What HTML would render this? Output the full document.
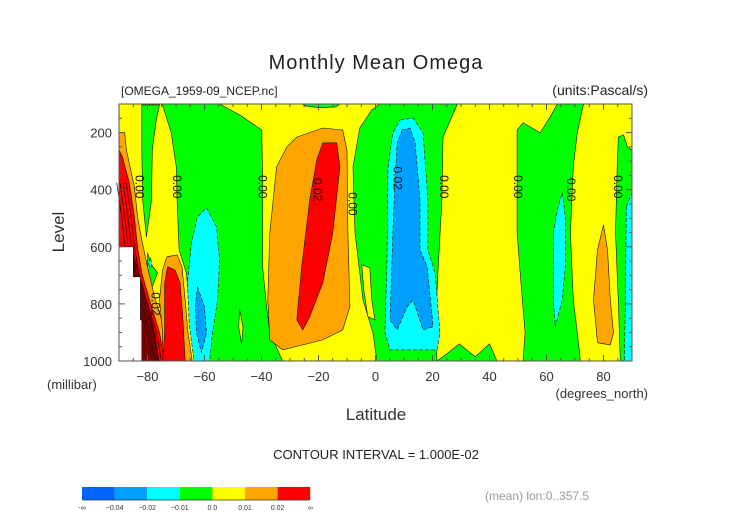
<!DOCTYPE html>
<html><head><meta charset="utf-8"><style>
body{margin:0;background:#fff;}
svg{display:block;font-family:"Liberation Sans",sans-serif;}
</style></head><body>
<svg id="chart" width="752" height="532" viewBox="0 0 752 532" xmlns="http://www.w3.org/2000/svg">
<text x="376" y="69" text-anchor="middle" font-size="20" fill="#222" letter-spacing="1">Monthly Mean Omega</text>
<text x="121" y="95" font-size="12" fill="#222">[OMEGA_1959-09_NCEP.nc]</text>
<text x="648" y="95" text-anchor="end" font-size="14" fill="#222">(units:Pascal/s)</text>
<text transform="translate(64,232) rotate(-90)" text-anchor="middle" font-size="17" fill="#333">Level</text>
<text x="47" y="389" font-size="13" fill="#333">(millibar)</text>
<text x="376" y="420" text-anchor="middle" font-size="17" fill="#333">Latitude</text>
<text x="648" y="398" text-anchor="end" font-size="13" fill="#333">(degrees_north)</text>
<text x="376" y="459" text-anchor="middle" font-size="13" fill="#222">CONTOUR INTERVAL = 1.000E-02</text>
<text x="485" y="500" font-size="12" fill="#999">(mean) lon:0..357.5</text>
<g id="plot"></g>
<g id="axes"></g>
<g id="cbar"></g>
</svg>
<script>
const xTicks=[-80,-60,-40,-20,0,20,40,60,80];
const yTicks=[200,400,600,800,1000];
const cbarColors=["#0064ff","#00a0ff","#00ffff","#00ff00","#ffff00","#ffa500","#ff0000"];
const cbarLabels=["-∞","−0.04","−0.02","−0.01","0.0","0.01","0.02","∞"];
const greenRegions=[
[[-82,103],[-75.8,103],[-76.9,156],[-78.3,261],[-78.6,436],[-80.4,566],[-81.7,436],[-82,261]],
[[-74.8,100],[-54.7,100],[-47.7,138],[-39.9,191],[-39.6,376],[-39.6,670],[-38.2,810],[-37.1,901],[-32.6,1000],[-63.6,1000],[-65.3,810],[-66.4,691],[-68.9,611],[-69.6,436],[-69.9,320],[-71.7,201]],
[[-80,621],[-78.6,663],[-76.5,691],[-78.3,740],[-80,698]],
[[-25.5,100],[-12.5,100],[-14,110],[-20,113],[-25,106]],
[[1.5,100],[-1.3,121],[-5.5,184],[-7.9,320],[-7.2,551],[-4.4,786],[-0.9,901],[0.5,1000],[21.6,1000],[20.9,901],[22,670],[23.3,436],[23.7,216],[28.6,103],[28.6,100]],
[[21.6,1000],[25,975],[29.4,940],[35,985],[40,940],[42.6,1000]],
[[49.7,191],[51.8,166],[57.8,201],[61.3,145],[63.8,100],[73,100],[70.8,201],[69.4,320],[68.4,551],[69.4,786],[70.8,901],[71.9,1000],[51.8,1000],[52.5,901],[51.5,786],[49.7,551]],
[[85.2,216],[87,208],[88.4,250],[90,261],[90,1000],[85.9,1000],[85.2,786],[84.2,551],[84.8,320]]
];
const yellowRegions=[
[[-47.7,820],[-46.5,880],[-47,940],[-48,880]],
[[-4.8,663],[-2,674],[-1.3,786],[-0.2,856],[-2.7,845],[-4.1,751]]
];
const cyanRegions=[
[[-59.3,464],[-55.8,530],[-54.7,646],[-55.4,786],[-57.2,901],[-58.2,1000],[-63.6,1000],[-65.3,880],[-66,726],[-64.6,586],[-62.5,495]],
[[8.6,156],[13.2,149],[16.7,201],[18.4,436],[18.4,611],[20.9,691],[22.6,901],[21.6,961],[5.1,961],[3.3,901],[4,670],[4.4,320],[6.1,201]],
[[65.5,411],[66.6,495],[66.6,670],[65.5,786],[63.1,880],[62.4,786],[62.4,551],[63.8,471]],
[[88,460],[90,411],[90,1000],[87.3,1000],[87.7,786]],
[[-79,640],[-78.4,660],[-79,675],[-79.6,660]]
];
const blueRegions=[
[[-62.5,740],[-60,810],[-59.3,901],[-61.1,971],[-62.8,901],[-63.2,810]],
[[9.3,191],[12.1,184],[13.9,236],[15.6,436],[15.6,611],[18.1,670],[20.2,880],[16.7,891],[13.2,786],[11.1,810],[7.6,891],[5.1,856],[6.1,551],[6.8,376],[7.6,236]]
];
const orangeRegions=[
[[-90,200],[-88,200],[-87.4,261],[-84.6,390],[-83.5,495],[-82,576],[-80,670],[-77.5,775],[-74,891],[-73,1000],[-90,1000]],
[[-73.2,635],[-69.6,628],[-67.9,670],[-66.8,786],[-65.8,901],[-64.3,1000],[-75,1000],[-74.7,901],[-75.8,786],[-74.7,681]],
[[-27.6,216],[-18.5,184],[-11.5,191],[-10,261],[-9.7,551],[-9,810],[-11.5,891],[-18.5,926],[-32.6,961],[-37.1,926],[-37.8,786],[-37.1,551],[-34.7,320],[-31.1,250]],
[[80,523],[81.4,611],[82.4,786],[83.5,901],[82.4,944],[77.9,936],[76.5,786],[77.9,611]]
];
const redRegions=[
[[-90,261],[-88.8,285],[-86.4,376],[-84.6,495],[-83.5,600],[-82,691],[-79.3,786],[-75.8,901],[-74,1000],[-90,1000]],
[[-72.9,670],[-70.4,681],[-68.6,726],[-67.6,845],[-66.8,1000],[-74.7,1000],[-74,901],[-74,726]],
[[-18.5,236],[-13.6,236],[-12.5,320],[-15,551],[-18.5,726],[-23.1,845],[-25.5,891],[-27.6,856],[-25.9,670],[-23.1,436],[-20.6,296]]
];
const darkRedRegions=[
[[-84.6,640],[-83,691],[-80.5,786],[-77.5,901],[-76,1000],[-82,1000],[-82.5,856],[-82.5,705],[-85,705],[-85,620]]
];
const redLineLat=[-86.4,-84.6,-83.5,-82,-79.3,-75.8,-74];
const redLineLev=[376,495,600,691,786,901,1000];
const missingRegion=[[-90,600],[-85,600],[-85,705],[-82.5,705],[-82.5,856],[-82,856],[-82,1000],[-90,1000]];
const labelText=["0.00","0.00","0.00","0.02","0.00","0.02","0.00","0.00","0.00","0.00","0.02"];
const labelLat=[-83,-70,-40,-20.6,-8.3,7.5,23.7,49.7,68.4,84.8,-77.5];
const labelLev=[390,390,390,400,450,360,390,390,400,390,800];

const X0=119,X1=632,Y0=104,Y1=361;
function sx(lat){return X0+(lat+90)/180*(X1-X0);}
function sy(lev){return Y0+(lev-100)/900*(Y1-Y0);}
const NS="http://www.w3.org/2000/svg";
function mk(tag,attrs,parent){const e=document.createElementNS(NS,tag);for(const k in attrs)e.setAttribute(k,attrs[k]);parent.appendChild(e);return e;}
const plot=document.getElementById('plot');
const bg=mk('rect',{x:X0,y:Y0,width:X1-X0,height:Y1-Y0,fill:'#ffff00'},plot);


function drawSet(set,color,name,dash){
  set.forEach(function(poly){
    const pts=poly.map(p=>sx(p[0]).toFixed(1)+','+sy(p[1]).toFixed(1)).join(' ');
    const a={points:pts,fill:color,stroke:'#111','stroke-width':0.6};
    if(dash)a['stroke-dasharray']='4,2';
    const el=mk('polygon',a,plot);
    
    
  });
}
drawSet(greenRegions,'#00ff00','contour-region-green',false);
drawSet(yellowRegions,'#ffff00','contour-region-yellow',false);
drawSet(cyanRegions,'#00ffff','contour-region-cyan',true);
drawSet(blueRegions,'#00a0ff','contour-region-blue',true);
drawSet(orangeRegions,'#ffa500','contour-region-orange',false);
drawSet(redRegions,'#ff0000','contour-region-red',false);
drawSet(darkRedRegions,'#7a0000','contour-region-dense',false);
for(let i=1;i<5;i++){
  const pts=redLineLat.map((lat,k)=>sx(lat-i*1.1).toFixed(1)+','+sy(redLineLev[k]).toFixed(1)).join(' ');
  const l=mk('polyline',{points:pts,fill:'none',stroke:'#300','stroke-width':0.7},plot);
  
  
}
drawSet([missingRegion],'#ffffff','missing-data-region',false);
labelText.forEach(function(t,i){
  const x=sx(labelLat[i]),y=sy(labelLev[i]);
  const el=mk('text',{x:0,y:0,transform:'translate('+x.toFixed(1)+','+y.toFixed(1)+') rotate(90)','text-anchor':'middle','dominant-baseline':'middle','font-size':12,fill:'#111'},plot);
  el.textContent=t;
  
  
});
const axes=document.getElementById('axes');
const frame=mk('rect',{x:X0,y:Y0,width:X1-X0,height:Y1-Y0,fill:'none',stroke:'#555','stroke-width':1},axes);


for(let lat=-90;lat<=90;lat+=5){
  const x=sx(lat),L=(lat%20===0)?6:3;
  mk('line',{x1:x,y1:Y1,x2:x,y2:Y1-L,stroke:'#555'},axes);
  mk('line',{x1:x,y1:Y0,x2:x,y2:Y0+L,stroke:'#555'},axes);
}
for(let lev=100;lev<=1000;lev+=50){
  const y=sy(lev),L=(lev%200===0)?6:3;
  mk('line',{x1:X0,y1:y,x2:X0+L,y2:y,stroke:'#555'},axes);
  mk('line',{x1:X1,y1:y,x2:X1-L,y2:y,stroke:'#555'},axes);
}
xTicks.forEach(function(v){
  const t=mk('text',{x:sx(v),y:Y1+20,'text-anchor':'middle','font-size':13,fill:'#333'},axes);
  t.textContent=v<0?'\u2212'+Math.abs(v):String(v);
  
  
});
yTicks.forEach(function(v){
  const t=mk('text',{x:X0-7,y:sy(v)+5,'text-anchor':'end','font-size':13,fill:'#333'},axes);
  t.textContent=String(v);
  
  
});
const cbar=document.getElementById('cbar');
const CX=82,CW=32.6,CY=487,CH=13;
cbarColors.forEach(function(c,i){
  const r=mk('rect',{x:CX+i*CW,y:CY,width:CW,height:CH,fill:c},cbar);
  
  
});
mk('line',{x1:CX,y1:CY+CH,x2:CX+7*CW,y2:CY+CH,stroke:'#333','stroke-width':0.8},cbar);
cbarLabels.forEach(function(s,i){
  const t=mk('text',{x:CX+i*CW,y:CY+CH+10,'text-anchor':'middle','font-size':7,fill:'#333'},cbar);
  t.textContent=s;
  
  
});
</script>
</body></html>
